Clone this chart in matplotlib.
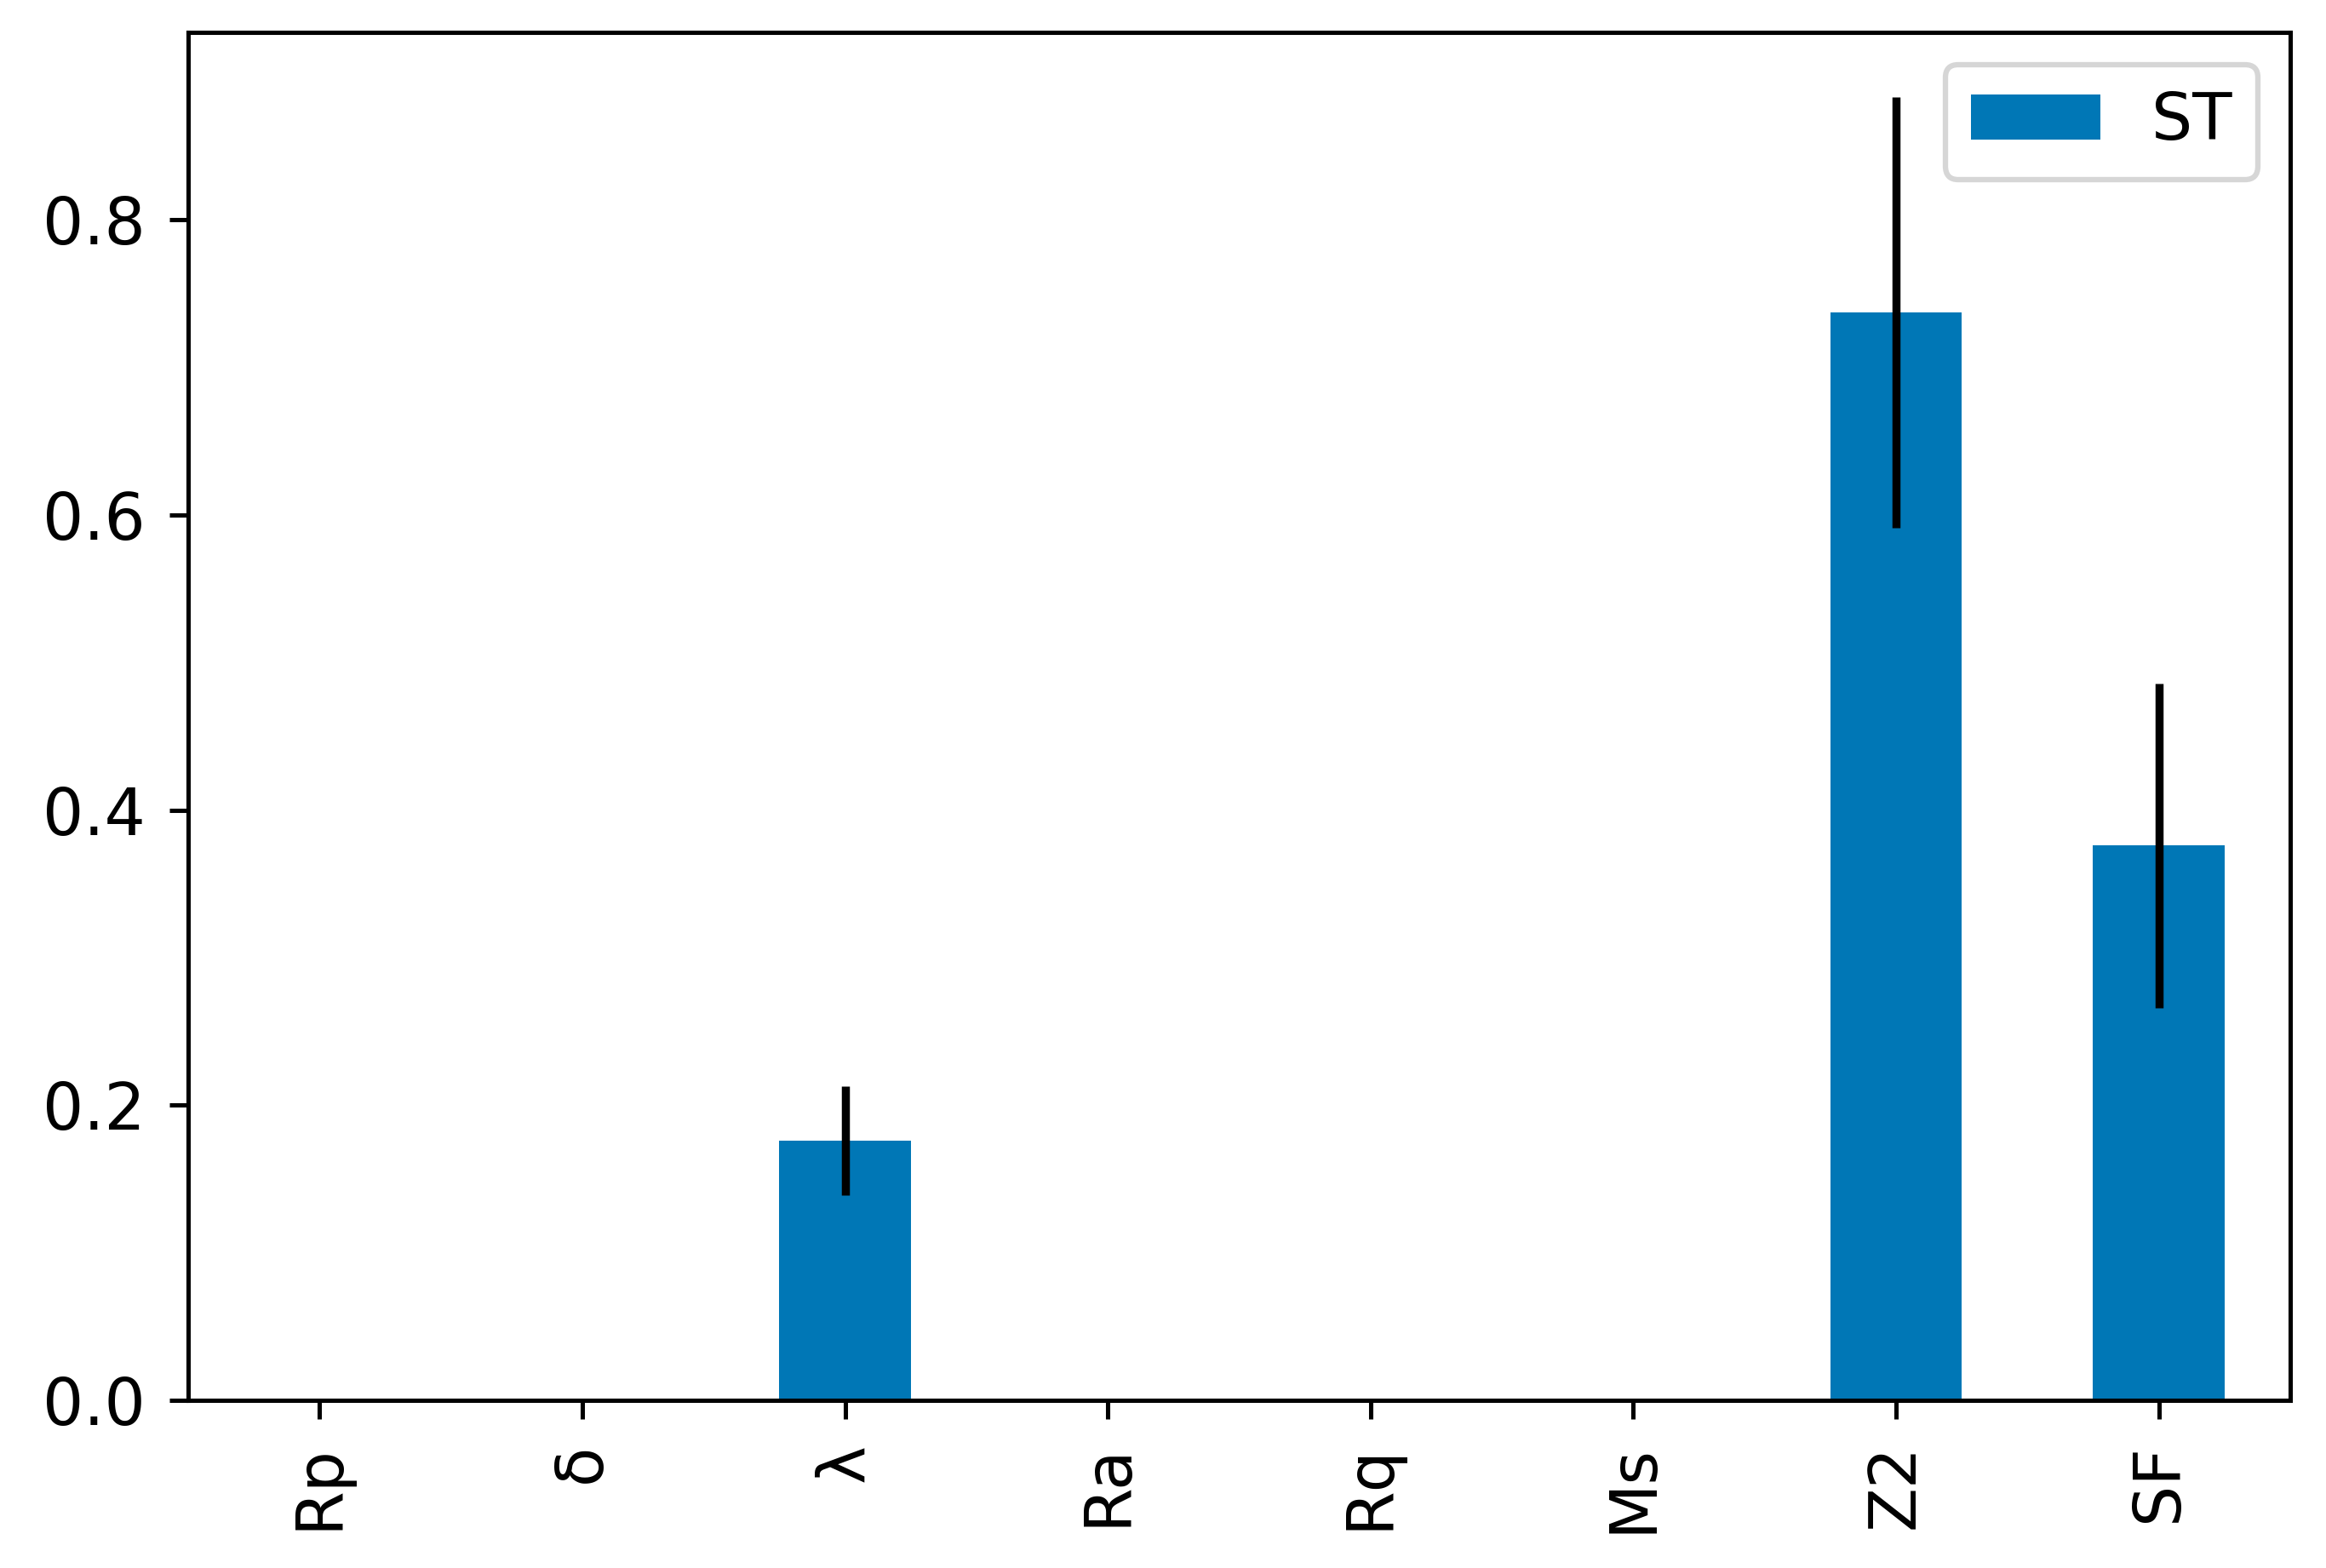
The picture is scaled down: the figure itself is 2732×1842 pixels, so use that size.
import matplotlib

matplotlib.use("Agg")
import matplotlib.pyplot as plt
import numpy as np

# Total-order Sobol indices with confidence intervals
params = ["Rp", "δ", "λ", "Ra", "Rq", "Ms", "Z2", "SF"]
st = [0.0, 0.0, 0.176, 0.0, 0.0, 0.0, 0.737, 0.376]
st_conf = [0.0, 0.0, 0.037, 0.0, 0.0, 0.0, 0.146, 0.110]

bar_color = "#0077b6"

plt.rcParams["font.family"] = ["DejaVu Sans"]

fig = plt.figure(figsize=(2732 / 455, 1842 / 455), dpi=455)
ax = fig.add_axes([0.0809, 0.1069, 0.9846 - 0.0809, 0.9794 - 0.1069])

x = np.arange(len(params))
ax.bar(
    x,
    st,
    width=0.5,
    color=bar_color,
    label="ST",
    yerr=st_conf,
    error_kw=dict(ecolor="black", elinewidth=1.5, capsize=0),
)

ax.set_xticks(x)
ax.set_xticklabels(params, rotation=90)
ax.set_yticks([0.0, 0.2, 0.4, 0.6, 0.8])
ax.set_xlim(-0.5, len(params) - 0.5)
ax.set_ylim(0, 0.927)

ax.tick_params(axis="both", labelsize=12, length=3.5, width=0.8, pad=4.5)
for spine in ax.spines.values():
    spine.set_linewidth(0.8)

ax.legend(loc="upper right", fontsize=12)

fig.savefig("out.png", dpi=455)
